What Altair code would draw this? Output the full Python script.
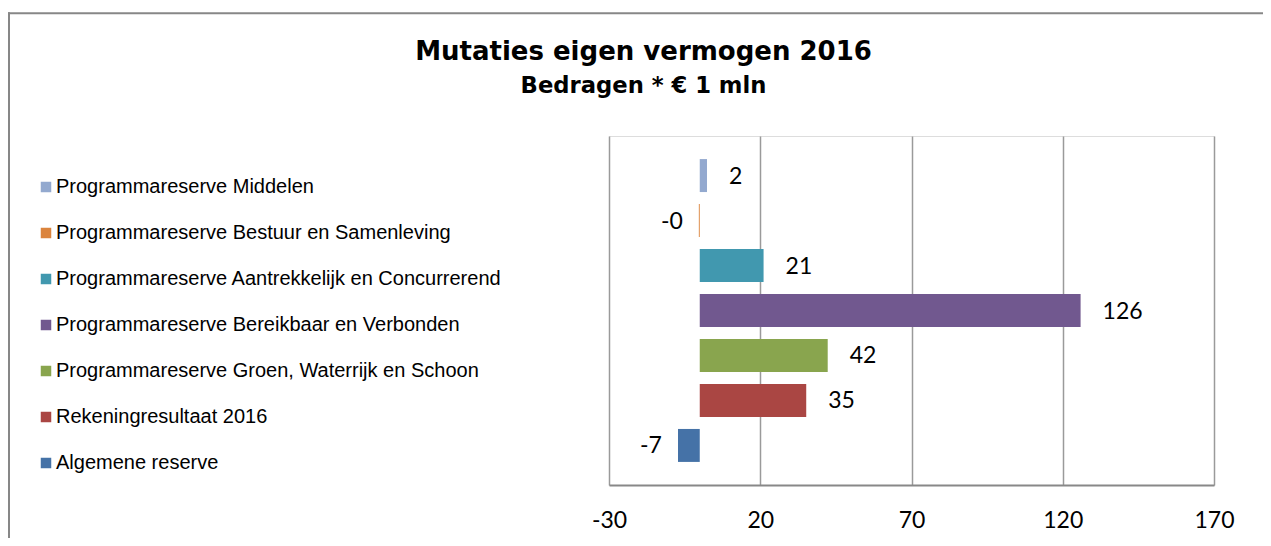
import altair as alt
import pandas as pd

categories = [
    "Programmareserve Middelen",
    "Programmareserve Bestuur en Samenleving",
    "Programmareserve Aantrekkelijk en Concurrerend",
    "Programmareserve Bereikbaar en Verbonden",
    "Programmareserve Groen, Waterrijk en Schoon",
    "Rekeningresultaat 2016",
    "Algemene reserve",
]
values = [2.4, -0.3, 21.1, 125.9, 42.3, 35.2, -7.2]
colors = ["#93A9CF", "#DB843D", "#4198AF", "#71588F", "#89A54E", "#AA4643", "#4572A7"]
ticks = [-30, 20, 70, 120, 170]

df = pd.DataFrame({
    "cat": categories,
    "v": values,
    "lbl": [f"{v:.0f}" for v in values],
})

W, H = 605, 349

xscale = alt.Scale(domain=[-30, 170], nice=False, zero=False)
yscale = alt.Scale(domain=categories, paddingInner=0.267, paddingOuter=0.513)

base = alt.Chart(df)

bars = base.mark_bar().encode(
    x=alt.X("v:Q", scale=xscale, title=None,
            axis=alt.Axis(values=ticks, grid=True, gridColor="#9a9a9a", gridWidth=1.5,
                          domain=True, domainColor="#888888", domainWidth=2,
                          ticks=False, labelFont="Lato", labelFontSize=23, labelColor="#000000",
                          labelBaseline="middle", labelPadding=35, labelFlush=False,
                          labelOverlap=False, labelExpr="'' + datum.value")),
    y=alt.Y("cat:N", scale=yscale, axis=None),
    color=alt.Color("cat:N", scale=alt.Scale(domain=categories, range=colors),
                    legend=alt.Legend(title=None, orient="none", legendX=-573, legendY=41,
                                      symbolType="square", symbolSize=110, symbolStrokeWidth=0,
                                      labelFont="Liberation Sans", labelFontSize=20,
                                      labelColor="#000000", labelOffset=0, rowPadding=26,
                                      padding=0, labelLimit=600)),
)

pos_lbl = base.transform_filter("datum.v >= 0").mark_text(
    align="left", baseline="middle", dx=22, dy=1, font="Lato", fontSize=23, color="#000000"
).encode(x=alt.X("v:Q", scale=xscale), y=alt.Y("cat:N", scale=yscale), text="lbl:N")

neg_lbl = base.transform_filter("datum.v < 0").mark_text(
    align="right", baseline="middle", dx=-16, dy=1, font="Lato", fontSize=23, color="#000000"
).encode(x=alt.X("v:Q", scale=xscale), y=alt.Y("cat:N", scale=yscale), text="lbl:N")

frame_df = pd.DataFrame({"k": [0]})
left_border = alt.Chart(frame_df).mark_rule(color="#878787", strokeWidth=2).encode(
    x=alt.value(-600), y=alt.value(-123.7), y2=alt.value(410)
)
top_border = alt.Chart(frame_df).mark_rule(color="#878787", strokeWidth=2).encode(
    x=alt.value(-601), x2=alt.value(660), y=alt.value(-122.7)
)

chart = alt.layer(bars, pos_lbl, neg_lbl, left_border, top_border).properties(
    width=W, height=H,
    autosize=alt.AutoSizeParams(type="none"),
    padding={"left": 601, "top": 128, "right": 49, "bottom": 53},
    title=alt.TitleParams(
        text="Mutaties eigen vermogen 2016",
        subtitle="Bedragen * € 1 mln",
        anchor="middle", dx=-268, offset=-86,
        font="DejaVu Sans", fontSize=26, fontWeight="bold", color="#000000",
        subtitleFont="DejaVu Sans", subtitleFontSize=22.7, subtitleFontWeight="bold",
        subtitleColor="#000000", subtitlePadding=10,
    ),
).configure_view(stroke=None).configure(background="#ffffff")

chart.save("out.html", embed_options={"renderer": "svg", "actions": False})
